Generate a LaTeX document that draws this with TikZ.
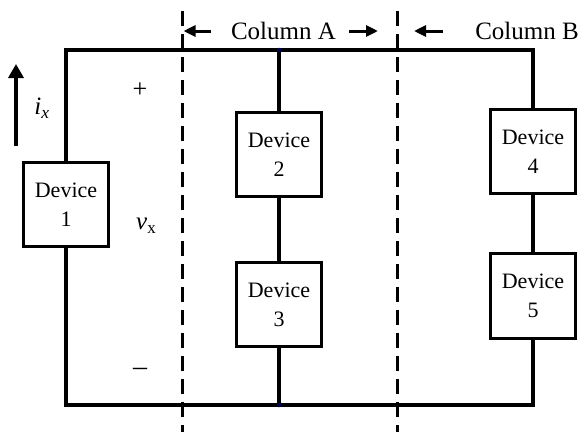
\documentclass[tikz,border=0pt]{standalone}
\usepackage{fontspec}
\setmainfont{Liberation Serif}
\usetikzlibrary{arrows.meta}
\begin{document}
\begin{tikzpicture}[x=1pt,y=-1pt,
  wire/.style={line width=3.4pt},
  devbox/.style={draw,line width=3.4pt,minimum width=85.5pt,minimum height=84.5pt,inner sep=0pt,align=center,font=\fontsize{22}{29}\selectfont},
  divider/.style={line width=3pt,dash pattern=on 15pt off 8pt},
  colarrow/.style={line width=3pt,-{Triangle[length=12pt,width=11pt]}},
  lbl/.style={font=\fontsize{25}{30}\selectfont,inner sep=0pt},
  junction/.style={circle,fill=black!70!blue,inner sep=0pt,minimum size=4.5pt}]
\useasboundingbox (0,0) rectangle (585,432);
% devices
\node[devbox] (D1) at (66,204.5) {Device\\1};
\node[devbox] (D2) at (279,154.5) {Device\\2};
\node[devbox] (D3) at (279,304.5) {Device\\3};
\node[devbox] (D4) at (533,151.5) {Device\\4};
\node[devbox] (D5) at (533,296) {Device\\5};
% corner coordinates
\coordinate (tl) at (66,50);
\coordinate (tr) at (533,50);
\coordinate (bl) at (66,405);
\coordinate (br) at (533,405);
\coordinate (tm) at (279,50);
\coordinate (bm) at (279,405);
% wires
\draw[wire] (D1.north) -- (tl) -- (tr) -- (D4.north);
\draw[wire] (D4.south) -- (D5.north);
\draw[wire] (D5.south) -- (br) -- (bl) -- (D1.south);
\draw[wire] (tm) -- (D2.north);
\draw[wire] (D2.south) -- (D3.north);
\draw[wire] (D3.south) -- (bm);
\node[junction] at (tm) {};
\node[junction] at (bm) {};
% dividers
\coordinate (dA1) at (182,11);
\coordinate (dA2) at (182,432);
\coordinate (dB1) at (397,11);
\coordinate (dB2) at (397,432);
\draw[divider] (dA1) -- (dA2);
\draw[divider] (dB1) -- (dB2);
% column labels
\node[lbl] (colA) at (283.5,31) {Column A};
\node[lbl] (colB) at (527,31) {Column B};
\coordinate (aAl0) at (211,31);
\coordinate (aAl) at (183.5,31);
\coordinate (aAr0) at (349,31);
\coordinate (aAr) at (378,31);
\coordinate (aBl0) at (443,31);
\coordinate (aBl) at (414,31);
\draw[colarrow] (aAl0) -- (aAl);
\draw[colarrow] (aAr0) -- (aAr);
\draw[colarrow] (aBl0) -- (aBl);
% current arrow
\coordinate (ix1) at (16,146);
\coordinate (ix2) at (16,64);
\draw[line width=3.4pt,-{Triangle[length=14pt,width=15pt]}] (ix1) -- (ix2);
\node[lbl] (ilab) at (42,108) {\textit{i}\textsubscript{\textit{x}}};
% voltage labels
\node[lbl] (vlab) at (146,226) {\textit{v}\raisebox{-0.35ex}{\fontsize{17}{20}\selectfont x}};
\node[lbl,font=\fontsize{26}{30}\selectfont] (plus) at (140,90) {+};
\node[lbl,font=\fontsize{28}{30}\selectfont] (minus) at (140,372) {–};
\end{tikzpicture}
\end{document}
